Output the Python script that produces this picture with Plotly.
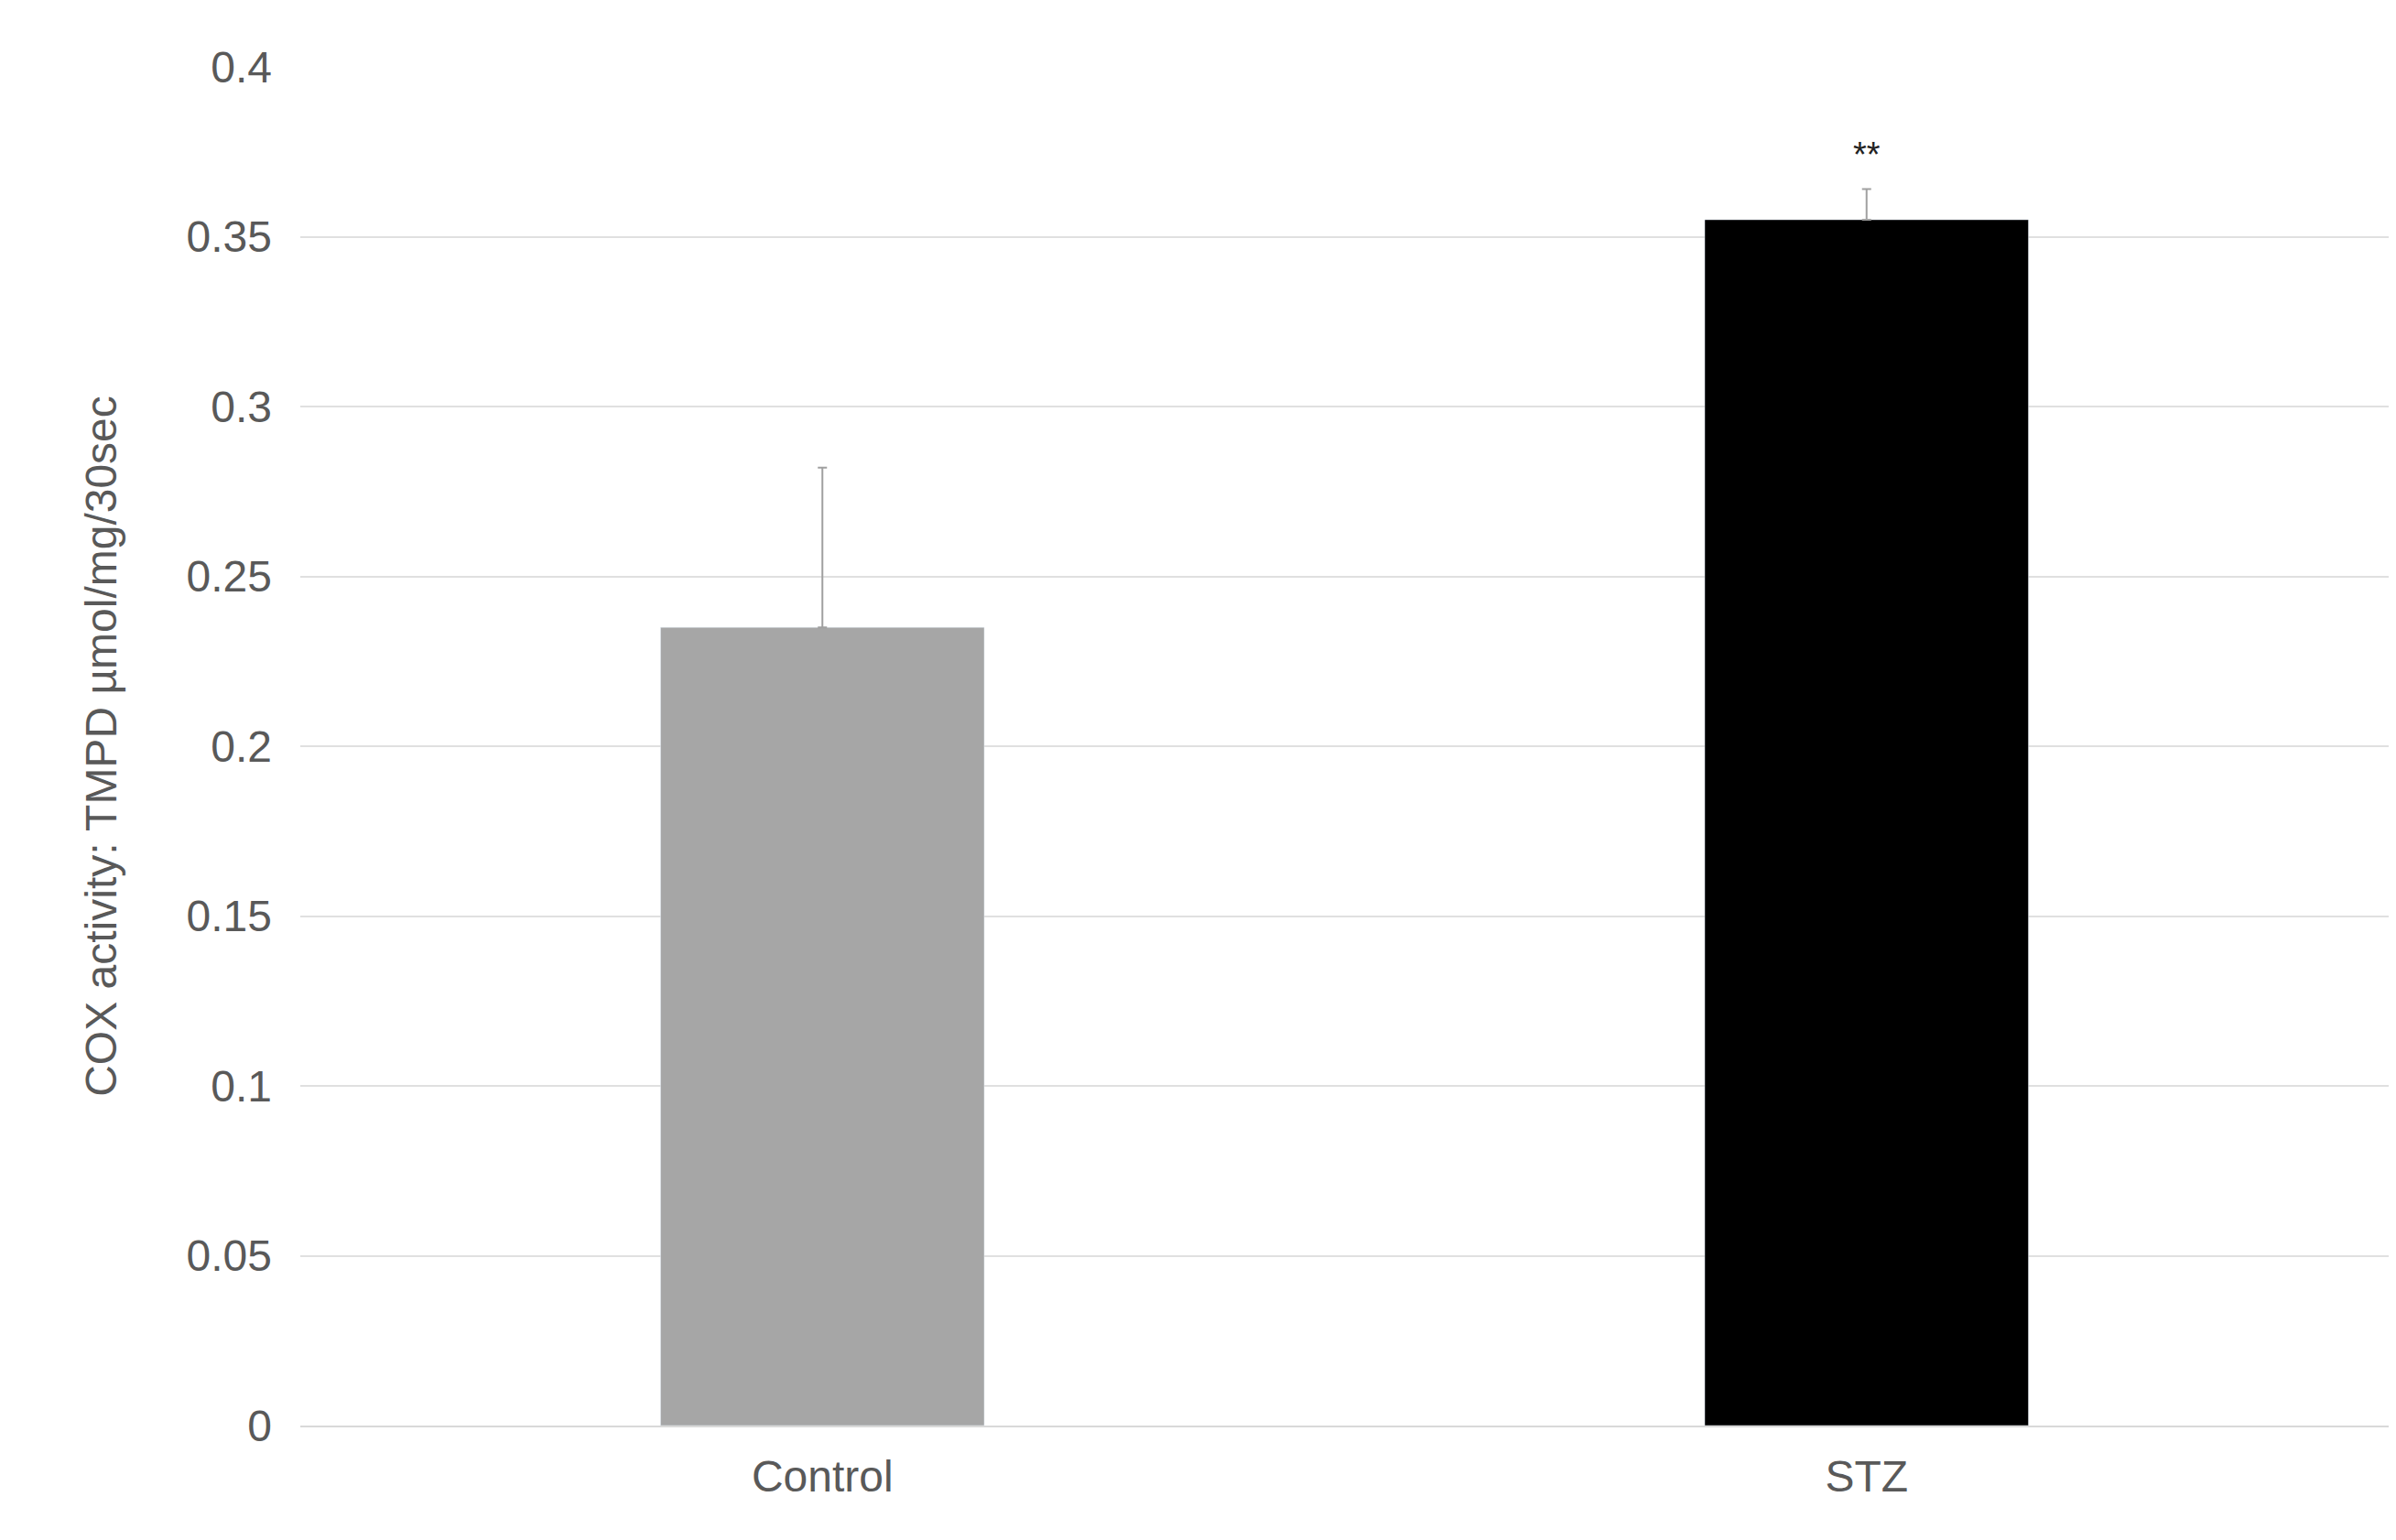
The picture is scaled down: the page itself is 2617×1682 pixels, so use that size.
import plotly.graph_objects as go

categories = ["Control", "STZ"]
values = [0.235, 0.355]
errors = [0.047, 0.009]
colors = ["#a6a6a6", "#000000"]
annotations_text = ["", "**"]

fig = go.Figure(go.Bar(
    x=categories, y=values, marker_color=colors, width=0.31,
    error_y=dict(type="data", array=errors, arrayminus=[0, 0], symmetric=False,
                 color="#a0a0a0", thickness=2, width=5),
    showlegend=False))
for c, v, e, t in zip(categories, values, errors, annotations_text):
    if t:
        fig.add_annotation(x=c, y=v + e, text=t, showarrow=False, yshift=38,
                           font=dict(size=38, color="#222"))

fig.update_layout(
    width=2617, height=1682, plot_bgcolor="white", paper_bgcolor="white",
    margin=dict(l=320, r=16, t=65, b=133),
    font=dict(family="Liberation Sans, Arial", color="#595959", size=48),
    bargap=0.69,
)
fig.update_yaxes(range=[0, 0.4], tickvals=[0,0.05,0.1,0.15,0.2,0.25,0.3,0.35,0.4],
                 ticktext=["0","0.05","0.1","0.15","0.2","0.25","0.3","0.35","0.4"],
                 showgrid=True, gridcolor="#e0e0e0", gridwidth=2, zeroline=False,
                 ticks="", ticklabelstandoff=30,
                 title=dict(text="COX activity: TMPD µmol/mg/30sec", font=dict(size=48), standoff=60))
fig.update_xaxes(showline=True, linecolor="#d9d9d9", linewidth=2, ticks="", ticklabelstandoff=12)
fig.write_html("out.html")
